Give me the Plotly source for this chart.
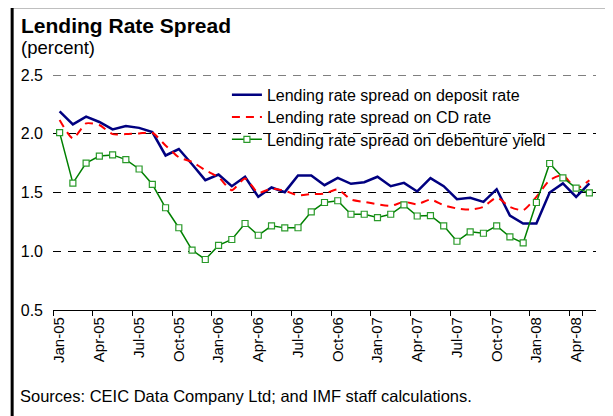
import plotly.graph_objects as go

# ---- data ----
month_names = ["Jan", "Feb", "Mar", "Apr", "May", "Jun", "Jul", "Aug", "Sep", "Oct", "Nov", "Dec"]
months = [f"{m}-{y:02d}" for y in (5, 6, 7, 8) for m in month_names][:41]  # Jan-05 .. May-08
tick_labels = months[::3]  # Jan-05, Apr-05, ..., Apr-08

deposit = [2.19, 2.08, 2.145, 2.10, 2.037, 2.065, 2.05, 2.014, 1.815, 1.87, 1.74, 1.605,
           1.653, 1.554, 1.634, 1.463, 1.543, 1.503, 1.645, 1.645, 1.5625, 1.625, 1.574, 1.588,
           1.634, 1.554, 1.582, 1.509, 1.622, 1.554, 1.443, 1.455, 1.42, 1.528, 1.304, 1.236,
           1.236, 1.50, 1.577, 1.463, 1.577]
cd_rate = [2.117, 1.96, 2.088, 2.074, 1.997, 1.997, 2.003, 2.008, 1.90, 1.80, 1.76, 1.69,
           1.63, 1.52, 1.62, 1.497, 1.534, 1.514, 1.477, 1.486, 1.49, 1.526, 1.44, 1.42,
           1.40, 1.386, 1.42, 1.40, 1.44, 1.392, 1.364, 1.355, 1.378, 1.457, 1.378, 1.35,
           1.463, 1.605, 1.648, 1.534, 1.605]
debenture = [2.01, 1.58, 1.75, 1.81, 1.82, 1.78, 1.70, 1.57, 1.37, 1.20, 1.01, 0.93,
             1.05, 1.10, 1.236, 1.136, 1.216, 1.199, 1.20, 1.335, 1.415, 1.43, 1.315, 1.315,
             1.287, 1.315, 1.395, 1.30, 1.304, 1.216, 1.085, 1.165, 1.153, 1.216, 1.122, 1.071,
             1.415, 1.747, 1.625, 1.537, 1.497]
y_ticks = [0.5, 1.0, 1.5, 2.0, 2.5]

FONT = "Liberation Sans, Arial, sans-serif"

# page has an 8px body margin: figure coordinates = page coordinates - 8
OFF = 8
W, H = 613 - OFF, 416 - OFF
PL, PR, PT, PB = 53.3, 595.6, 74.5, 310.0   # plot area in page pixels
L, R, T, B = PL - OFF, W - (PR - OFF), PT - OFF, H - (PB - OFF)
pw, ph = W - L - R, H - T - B


def px_x(p):
    return (p - OFF - L) / pw


def px_y(p):
    return (H - B - (p - OFF)) / ph


fig = go.Figure()
fig.add_trace(go.Scatter(
    x=months, y=deposit, mode="lines", name="Lending rate spread on deposit rate",
    line=dict(color="#000080", width=2.5), legend="legend"))
fig.add_trace(go.Scatter(
    x=months, y=cd_rate, mode="lines", name="Lending rate spread on CD rate",
    line=dict(color="#ff0000", width=2, dash="8px,6px", shape="spline", smoothing=0.6),
    legend="legend2"))
fig.add_trace(go.Scatter(
    x=months, y=debenture, mode="lines+markers", name="Lending rate spread on debenture yield",
    line=dict(color="#008000", width=1.5),
    marker=dict(symbol="square", size=6, color="white", line=dict(color="#2a9a2a", width=1.2)),
    legend="legend3"))


def leg(row_center):
    return dict(x=px_x(227), y=px_y(row_center - 15), xanchor="left", yanchor="top",
                bgcolor="rgba(0,0,0,0)", font=dict(size=16), itemwidth=30)


fig.update_layout(
    width=W, height=H,
    margin=dict(l=L, r=R, t=T, b=B, pad=0, autoexpand=False),
    paper_bgcolor="white", plot_bgcolor="white",
    font=dict(family=FONT, size=16, color="black"),
    showlegend=True,
    legend=leg(92.3), legend2=leg(114.7), legend3=leg(137.0),
    xaxis=dict(
        type="category", range=[-0.5, 40.5],
        tickmode="array", tickvals=tick_labels, ticktext=tick_labels,
        tickson="boundaries", ticks="outside", ticklen=5, tickcolor="black", tickwidth=1,
        showline=True, linecolor="black", linewidth=1.2, showgrid=False,
        tickangle=-90, tickfont=dict(size=15), zeroline=False,
    ),
    yaxis=dict(
        range=[0.5, 2.5], tickmode="array", tickvals=y_ticks,
        ticktext=[f"{v:.1f}" for v in y_ticks],
        showgrid=True, gridcolor="black", gridwidth=1, griddash="8px,7px",
        showline=False, ticks="", zeroline=False, tickfont=dict(size=16),
        ticklabelstandoff=9,
    ),
    shapes=[
        dict(type="rect", xref="paper", yref="paper",
             x0=px_x(12.5), x1=px_x(650), y0=px_y(450), y1=px_y(6),
             line=dict(color="black", width=3), fillcolor="rgba(0,0,0,0)", layer="above"),
        # top gridline (at the upper edge of the plot area)
        dict(type="line", xref="paper", yref="y", x0=0, x1=1, y0=y_ticks[-1], y1=y_ticks[-1],
             line=dict(color="black", width=1, dash="8px,7px"), layer="below"),
    ],
    annotations=[
        dict(text="<b>Lending Rate Spread</b>", xref="paper", yref="paper",
             x=px_x(19.5), y=px_y(24.5), xanchor="left", yanchor="middle",
             showarrow=False, font=dict(size=21)),
        dict(text="(percent)", xref="paper", yref="paper",
             x=px_x(19.5), y=px_y(46.5), xanchor="left", yanchor="middle",
             showarrow=False, font=dict(size=18.5)),
        dict(text="Sources: CEIC Data Company Ltd; and IMF staff calculations.",
             xref="paper", yref="paper", x=px_x(18.5), y=px_y(396),
             xanchor="left", yanchor="middle", showarrow=False, font=dict(size=16.5)),
    ],
)

fig.write_html("out.html")
